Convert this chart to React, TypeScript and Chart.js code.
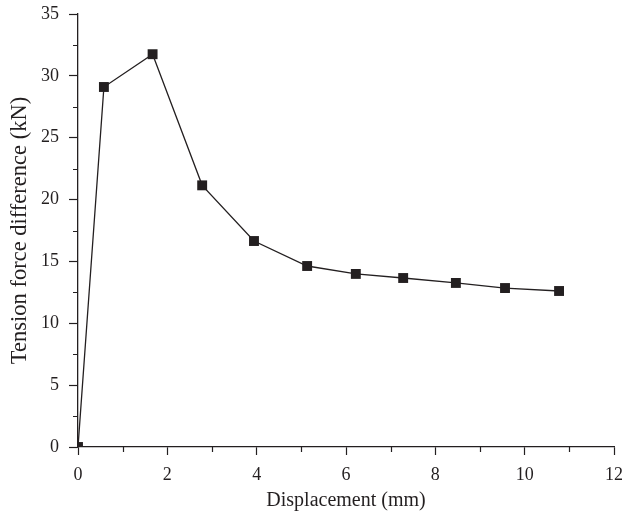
import React, { useEffect, useRef } from "react";
import { Chart, registerables } from "chart.js";

Chart.register(...registerables);

const displacement = [0, 0.58, 1.67, 2.78, 3.94, 5.13, 6.22, 7.28, 8.46, 9.56, 10.77];
const tensionDiff = [0, 29.1, 31.75, 21.15, 16.65, 14.63, 13.99, 13.66, 13.26, 12.85, 12.61];
const xMinorTicks = [1, 3, 5, 7, 9, 11];
const yMinorTicks = [2.5, 7.5, 12.5, 17.5, 22.5, 27.5, 32.5];
const xTitle = "Displacement (mm)";
const yTitle = "Tension force difference (kN)";

const INK = "#231f20";
const FONT = "'Liberation Serif', 'Times New Roman', serif";

const minorTicks = {
  id: "minorTicks",
  afterDraw(chart: any) {
    const ctx = chart.ctx;
    const xs = chart.scales.x;
    const ys = chart.scales.y;
    ctx.save();
    ctx.strokeStyle = INK;
    ctx.lineWidth = 1.2;
    ctx.beginPath();
    for (const v of xMinorTicks) {
      const px = Math.round(xs.getPixelForValue(v)) + 0.5;
      ctx.moveTo(px, xs.top);
      ctx.lineTo(px, xs.top + 5);
    }
    for (const v of yMinorTicks) {
      const py = Math.round(ys.getPixelForValue(v)) + 0.5;
      ctx.moveTo(ys.right - 5, py);
      ctx.lineTo(ys.right, py);
    }
    ctx.stroke();
    ctx.restore();
  },
};

export default function App() {
  const ref = useRef<HTMLCanvasElement>(null);
  useEffect(() => {
    if (!ref.current) return;
    const chart = new Chart(ref.current, {
      type: "line",
      data: {
        datasets: [
          {
            data: displacement.map((x, i) => ({ x, y: tensionDiff[i] })),
            borderColor: INK,
            borderWidth: 1.3,
            backgroundColor: INK,
            pointStyle: "rect",
            pointRadius: 7,
            pointBorderWidth: 0,
            pointBackgroundColor: INK,
            tension: 0,
          },
        ],
      },
      options: {
        animation: false,
        responsive: false,
        events: [],
        layout: { padding: { left: 7, right: 11, top: 14, bottom: 4 } },
        plugins: { legend: { display: false }, tooltip: { enabled: false } },
        scales: {
          x: {
            type: "linear",
            min: 0,
            max: 12,
            afterFit(scale: any) {
              scale.height = 517 - 447 - 4;
              scale.paddingLeft = 0;
              scale.paddingRight = 0;
            },
            ticks: {
              stepSize: 2,
              color: INK,
              font: { family: FONT, size: 18 },
              padding: 9,
              maxRotation: 0,
            },
            grid: {
              drawOnChartArea: false,
              drawTicks: true,
              tickLength: 8,
              tickColor: INK,
              tickWidth: 1.2,
            },
            border: { display: true, color: INK, width: 1.3 },
            title: {
              display: true,
              text: xTitle,
              color: INK,
              font: { family: FONT, size: 20 },
              padding: 0,
            },
          },
          y: {
            type: "linear",
            min: 0,
            max: 35,
            afterFit(scale: any) {
              scale.width = 78 - 7;
              scale.paddingTop = 0;
              scale.paddingBottom = 0;
            },
            ticks: {
              stepSize: 5,
              color: INK,
              font: { family: FONT, size: 18 },
              padding: 10,
            },
            grid: {
              drawOnChartArea: false,
              drawTicks: true,
              tickLength: 9,
              tickColor: INK,
              tickWidth: 1.2,
            },
            border: { display: true, color: INK, width: 1.3 },
            title: {
              display: true,
              text: yTitle,
              color: INK,
              font: { family: FONT, size: 22.5 },
              padding: 0,
            },
          },
        },
      },
      plugins: [minorTicks],
    });
    return () => chart.destroy();
  }, []);
  return (
    <div style={{ position: "absolute", left: 0, top: 0, width: 625, height: 517, background: "#fff" }}>
      <canvas ref={ref} width={625} height={517} />
    </div>
  );
}
